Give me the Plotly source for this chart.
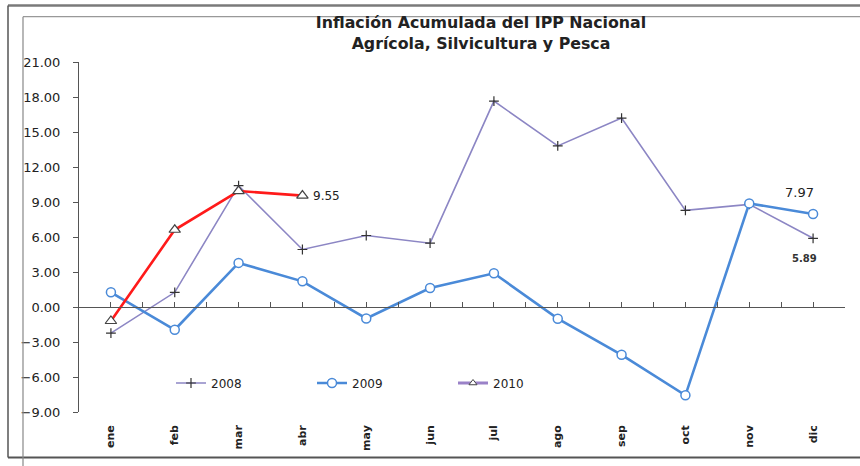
import plotly.graph_objects as go

months = ["ene", "feb", "mar", "abr", "may", "jun", "jul", "ago", "sep", "oct", "nov", "dic"]
s2008 = [-2.24, 1.26, 10.40, 4.93, 6.13, 5.47, 17.65, 13.81, 16.19, 8.28, 8.80, 5.89]
s2009 = [1.26, -1.95, 3.78, 2.20, -0.98, 1.63, 2.89, -1.00, -4.10, -7.57, 8.88, 7.97]
s2010 = [-1.20, 6.62, 9.94, 9.55]
yticks = [-9, -6, -3, 0, 3, 6, 9, 12, 15, 18, 21]

# plot area in pixels
L, R, T, B = 79, 845, 62, 412
W, H = 860, 466
def px(x):
    return (x - L) / (R - L)
def py(y):
    return (B - y) / (B - T)

FONT = "DejaVu Sans, Liberation Sans, Arial"
idx = list(range(len(months)))
half = [i / 2 for i in range(-1, 2 * len(months))]

fig = go.Figure()
fig.add_trace(go.Scatter(x=idx, y=s2008, mode="lines+markers", name="2008",
                         line=dict(color="#8c86c4", width=1.6),
                         marker=dict(symbol="cross-thin", size=7, line=dict(color="#333333", width=1.2))))
fig.add_trace(go.Scatter(x=idx, y=s2009, mode="lines+markers", name="2009",
                         line=dict(color="#4a8ad8", width=2.6),
                         marker=dict(symbol="circle", size=9, color="white", line=dict(color="#4a8ad8", width=1.5))))
fig.add_trace(go.Scatter(x=idx[:len(s2010)], y=s2010, mode="lines+markers", name="2010",
                         line=dict(color="#ff1a1a", width=2.6), showlegend=False,
                         marker=dict(symbol="triangle-up", size=10, color="white", line=dict(color="#444444", width=1.2))))
# legend entry for 2010 (Excel legend shows purple line)
fig.add_trace(go.Scatter(x=[None], y=[None], mode="lines+markers", name="2010",
                         line=dict(color="#9a82c8", width=3),
                         marker=dict(symbol="triangle-up", size=7, color="white", line=dict(color="#444444", width=1))))
# secondary x axis carrying the zero line ticks
fig.add_trace(go.Scatter(x=[None], y=[None], xaxis="x2", showlegend=False, hoverinfo="skip"))

fig.update_layout(
    width=W, height=H,
    margin=dict(l=L, r=W - R, t=T, b=H - B, autoexpand=False),
    paper_bgcolor="white", plot_bgcolor="white",
    font=dict(family=FONT, color="#222222", size=12),
    title=dict(text="<b>Inflación Acumulada del IPP Nacional<br>Agrícola, Silvicultura y Pesca</b>",
               x=481 / W, xanchor="center", y=1 - 28 / H, yanchor="top", automargin=False,
               font=dict(size=15.8, family=FONT, color="#222222")),
    xaxis=dict(range=[-0.5, 11.5], tickvals=idx, ticktext=["<b>%s</b>" % m for m in months],
               tickangle=-90, showline=False, ticks="", showgrid=False, zeroline=False,
               automargin=False, ticklabelstandoff=10, tickfont=dict(size=11)),
    xaxis2=dict(range=[-0.5, 11.5], overlaying="x", anchor="free", position=9 / 30,
                tickvals=half, showticklabels=False, ticks="inside", ticklen=5, automargin=False,
                tickcolor="#555555", showline=True, linecolor="#555555", linewidth=1,
                showgrid=False, zeroline=False),
    yaxis=dict(range=[-9, 21], tickvals=yticks, tickformat=".2f", showline=True, automargin=False,
               linecolor="#555555", linewidth=1, ticks="outside", ticklen=5, tickcolor="#555555",
               showgrid=False, zeroline=False, ticklabelstandoff=10, tickfont=dict(size=13)),
    legend=dict(orientation="h", x=px(171), xanchor="left", y=py(383), yanchor="middle",
                bgcolor="rgba(0,0,0,0)", font=dict(size=12), entrywidth=96, entrywidthmode="pixels",
                itemwidth=30, tracegroupgap=0),
    showlegend=True,
)

shapes = [
    # outer frame
    dict(type="line", xref="paper", yref="paper", x0=px(8), x1=px(860), y0=py(5.5), y1=py(5.5),
         line=dict(color="#7a7a7a", width=2.5)),
    dict(type="line", xref="paper", yref="paper", x0=px(8), x1=px(8), y0=py(5.5), y1=py(457.5),
         line=dict(color="#555555", width=1.5)),
    dict(type="line", xref="paper", yref="paper", x0=px(8), x1=px(860), y0=py(457.5), y1=py(457.5),
         line=dict(color="#555555", width=2)),
    # inner chart-area frame
    dict(type="line", xref="paper", yref="paper", x0=px(23), x1=px(860), y0=py(16.7), y1=py(16.7),
         line=dict(color="#999999", width=1.2)),
    dict(type="line", xref="paper", yref="paper", x0=px(23), x1=px(23), y0=py(16.7), y1=py(466),
         line=dict(color="#888888", width=1.2)),
]
fig.update_layout(shapes=shapes)

fig.add_annotation(x=3, y=s2010[3], text="%.2f" % s2010[3], showarrow=False, xanchor="left",
                   xshift=9, font=dict(size=12, color="#222222"))
fig.add_annotation(x=11, y=s2009[11], text="%.2f" % s2009[11], showarrow=False, xanchor="center",
                   xshift=-14, yshift=22, font=dict(size=13, color="#222222"))
fig.add_annotation(x=11, y=s2008[11], text="<b>%.2f</b>" % s2008[11], showarrow=False, xanchor="center",
                   xshift=-9, yshift=-20, font=dict(size=10, color="#333333"))

fig.write_html("out.html", config={"displayModeBar": False},
               post_script="document.body.style.margin='0';document.body.style.overflow='hidden';")
